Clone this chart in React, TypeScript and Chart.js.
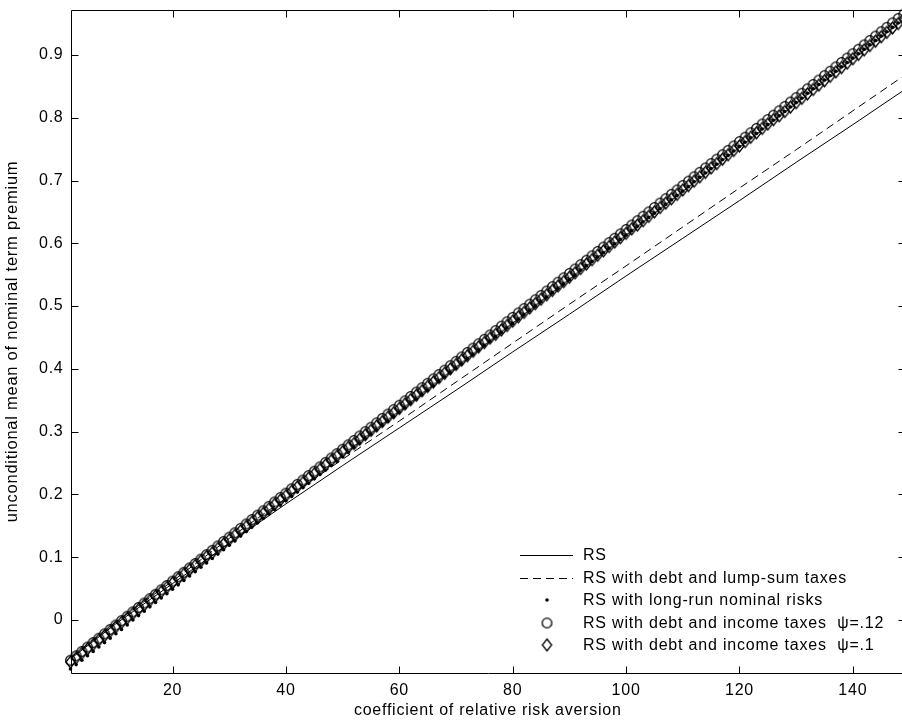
import React, { useEffect, useRef } from 'react';
import { Chart, registerables } from 'chart.js';

Chart.register(...registerables);

// coefficient of relative risk aversion: marker series are sampled at every integer 2..150
const gammaGrid: number[] = Array.from({ length: 149 }, (_, i) => i + 2);
// the two plain lines are read at these abscissae
const lineGamma: number[] = [2, 10, 20, 30, 40, 50, 60, 70, 80, 90, 100, 110, 120, 130, 140, 150];

const rsPremium: number[] = [-0.062, -0.006, 0.058, 0.122, 0.185, 0.246, 0.306, 0.366, 0.427, 0.487, 0.548, 0.608, 0.668, 0.729, 0.789, 0.850];
const lumpSumPremium: number[] = [-0.060, -0.003, 0.062, 0.130, 0.194, 0.256, 0.317, 0.379, 0.441, 0.503, 0.564, 0.626, 0.688, 0.749, 0.811, 0.873];

const longRunPremium: number[] = [
  -0.078, -0.071, -0.064, -0.057, -0.050, -0.043, -0.036, -0.029, -0.022, -0.015,
  -0.008, 0.000, 0.007, 0.014, 0.021, 0.028, 0.035, 0.042, 0.049, 0.056,
  0.063, 0.070, 0.077, 0.084, 0.091, 0.098, 0.105, 0.112, 0.119, 0.126,
  0.134, 0.141, 0.148, 0.155, 0.162, 0.169, 0.176, 0.183, 0.190, 0.197,
  0.204, 0.211, 0.218, 0.225, 0.232, 0.239, 0.246, 0.253, 0.260, 0.267,
  0.275, 0.282, 0.289, 0.296, 0.303, 0.310, 0.317, 0.324, 0.331, 0.338,
  0.345, 0.352, 0.359, 0.366, 0.373, 0.380, 0.387, 0.394, 0.401, 0.408,
  0.416, 0.423, 0.430, 0.437, 0.444, 0.451, 0.458, 0.465, 0.472, 0.479,
  0.486, 0.493, 0.500, 0.507, 0.514, 0.521, 0.528, 0.535, 0.542, 0.549,
  0.557, 0.564, 0.571, 0.578, 0.585, 0.592, 0.599, 0.606, 0.613, 0.620,
  0.627, 0.634, 0.641, 0.648, 0.655, 0.662, 0.669, 0.676, 0.683, 0.690,
  0.698, 0.705, 0.712, 0.719, 0.726, 0.733, 0.740, 0.747, 0.754, 0.761,
  0.768, 0.775, 0.782, 0.789, 0.796, 0.803, 0.810, 0.817, 0.824, 0.831,
  0.839, 0.846, 0.853, 0.860, 0.867, 0.874, 0.881, 0.888, 0.895, 0.902,
  0.909, 0.916, 0.923, 0.930, 0.937, 0.944, 0.951, 0.958, 0.965,
];

const incomeTaxPsi12: number[] = [
  -0.064, -0.057, -0.050, -0.043, -0.036, -0.029, -0.022, -0.015, -0.008, -0.001,
  0.006, 0.013, 0.020, 0.027, 0.034, 0.041, 0.048, 0.055, 0.062, 0.069,
  0.076, 0.083, 0.090, 0.097, 0.104, 0.111, 0.118, 0.125, 0.132, 0.139,
  0.146, 0.153, 0.160, 0.167, 0.174, 0.181, 0.188, 0.195, 0.202, 0.209,
  0.216, 0.223, 0.230, 0.237, 0.244, 0.251, 0.258, 0.265, 0.272, 0.279,
  0.286, 0.293, 0.300, 0.307, 0.314, 0.321, 0.328, 0.335, 0.342, 0.349,
  0.356, 0.363, 0.370, 0.377, 0.384, 0.391, 0.398, 0.405, 0.412, 0.419,
  0.426, 0.433, 0.440, 0.447, 0.454, 0.461, 0.468, 0.475, 0.482, 0.489,
  0.496, 0.503, 0.510, 0.517, 0.524, 0.531, 0.538, 0.545, 0.552, 0.559,
  0.566, 0.573, 0.580, 0.587, 0.594, 0.601, 0.608, 0.615, 0.622, 0.629,
  0.636, 0.643, 0.650, 0.657, 0.664, 0.671, 0.678, 0.685, 0.692, 0.699,
  0.706, 0.713, 0.720, 0.727, 0.734, 0.741, 0.748, 0.755, 0.762, 0.769,
  0.776, 0.783, 0.790, 0.797, 0.804, 0.811, 0.818, 0.825, 0.832, 0.839,
  0.846, 0.853, 0.860, 0.867, 0.874, 0.881, 0.888, 0.895, 0.902, 0.909,
  0.916, 0.923, 0.930, 0.937, 0.944, 0.951, 0.958, 0.965, 0.972,
];

const incomeTaxPsi10: number[] = [
  -0.067, -0.060, -0.053, -0.046, -0.039, -0.032, -0.025, -0.018, -0.011, -0.004,
  0.003, 0.010, 0.017, 0.024, 0.031, 0.038, 0.045, 0.052, 0.059, 0.066,
  0.073, 0.080, 0.087, 0.094, 0.101, 0.107, 0.114, 0.121, 0.128, 0.135,
  0.142, 0.149, 0.156, 0.163, 0.170, 0.177, 0.184, 0.191, 0.198, 0.205,
  0.212, 0.219, 0.226, 0.233, 0.240, 0.247, 0.254, 0.261, 0.268, 0.275,
  0.281, 0.288, 0.295, 0.302, 0.309, 0.316, 0.323, 0.330, 0.337, 0.344,
  0.351, 0.358, 0.365, 0.372, 0.379, 0.386, 0.393, 0.400, 0.407, 0.414,
  0.421, 0.428, 0.435, 0.442, 0.449, 0.455, 0.462, 0.469, 0.476, 0.483,
  0.490, 0.497, 0.504, 0.511, 0.518, 0.525, 0.532, 0.539, 0.546, 0.553,
  0.560, 0.567, 0.574, 0.581, 0.588, 0.595, 0.602, 0.609, 0.616, 0.623,
  0.629, 0.636, 0.643, 0.650, 0.657, 0.664, 0.671, 0.678, 0.685, 0.692,
  0.699, 0.706, 0.713, 0.720, 0.727, 0.734, 0.741, 0.748, 0.755, 0.762,
  0.769, 0.776, 0.783, 0.790, 0.797, 0.803, 0.810, 0.817, 0.824, 0.831,
  0.838, 0.845, 0.852, 0.859, 0.866, 0.873, 0.880, 0.887, 0.894, 0.901,
  0.908, 0.915, 0.922, 0.929, 0.936, 0.943, 0.950, 0.957, 0.962,
];

const xTicks: number[] = [20, 40, 60, 80, 100, 120, 140];
const yTicks: number[] = [0, 0.1, 0.2, 0.3, 0.4, 0.5, 0.6, 0.7, 0.8, 0.9];
const yTickLabels: string[] = ['0', '0.1', '0.2', '0.3', '0.4', '0.5', '0.6', '0.7', '0.8', '0.9'];

const xTitle = 'coefficient of relative risk aversion';
const yTitle = 'unconditional mean of nominal term premium';
const legendLabels: string[] = [
  'RS',
  'RS with debt and lump-sum taxes',
  'RS with long-run nominal risks',
  'RS with debt and income taxes  \u03C8=.12',
  'RS with debt and income taxes  \u03C8=.1',
];

const X_MIN = 2;
const X_MAX = 149.2;
const Y_MIN = -0.0844;
const Y_MAX = 0.9716;

const FONT_FAMILY = '"Liberation Sans", Arial, Helvetica, sans-serif';
const LETTER_SPACING = '0.75px';
const LEGEND_LETTER_SPACING = '0.8px';

function makeCircleMarker(r: number, lw: number): HTMLCanvasElement {
  const size = Math.ceil(2 * r + lw + 2);
  const c = document.createElement('canvas');
  c.width = size;
  c.height = size;
  const g = c.getContext('2d')!;
  g.strokeStyle = '#000';
  g.lineWidth = lw;
  g.beginPath();
  g.arc(size / 2, size / 2, r, 0, Math.PI * 2);
  g.stroke();
  return c;
}

function makeDiamondMarker(hw: number, hh: number, lw: number): HTMLCanvasElement {
  const w = Math.ceil(2 * hw + lw + 2);
  const h = Math.ceil(2 * hh + lw + 2);
  const c = document.createElement('canvas');
  c.width = w;
  c.height = h;
  const g = c.getContext('2d')!;
  g.strokeStyle = '#000';
  g.lineWidth = lw;
  g.beginPath();
  g.moveTo(w / 2, h / 2 - hh);
  g.lineTo(w / 2 + hw, h / 2);
  g.lineTo(w / 2, h / 2 + hh);
  g.lineTo(w / 2 - hw, h / 2);
  g.closePath();
  g.stroke();
  return c;
}

const toPoints = (xs: number[], ys: number[]) => ys.map((y, i) => ({ x: xs[i], y }));

export default function App() {
  const canvasRef = useRef<HTMLCanvasElement | null>(null);

  useEffect(() => {
    const canvas = canvasRef.current;
    if (!canvas) return;

    const circleMarker = makeCircleMarker(4.8, 1.3);
    const diamondMarker = makeDiamondMarker(4.6, 6, 1.3);

    const font = { family: FONT_FAMILY, size: 16 };

    const letterSpacingPlugin = {
      id: 'letterSpacing',
      beforeDraw(chart: any) {
        (chart.ctx as any).letterSpacing = LETTER_SPACING;
      },
    };

    const framePlugin = {
      id: 'frameAndLegend',
      afterDraw(chart: any) {
        const { ctx, chartArea, scales } = chart;
        const { left, right, top, bottom } = chartArea;
        const xs = scales.x;
        const ys = scales.y;
        ctx.save();
        ctx.strokeStyle = '#000';
        ctx.lineWidth = 1;
        ctx.setLineDash([]);
        const L = Math.round(left) + 0.5;
        const R = Math.round(right) + 0.5;
        const T = Math.round(top) + 0.5;
        const B = Math.round(bottom) + 0.5;
        ctx.beginPath();
        ctx.moveTo(L, T);
        ctx.lineTo(R, T);
        ctx.lineTo(R, B);
        ctx.lineTo(L, B);
        ctx.closePath();
        const TL = 7;
        xTicks.forEach((v) => {
          const px = Math.round(xs.getPixelForValue(v)) + 0.5;
          ctx.moveTo(px, B);
          ctx.lineTo(px, B - TL);
          ctx.moveTo(px, T);
          ctx.lineTo(px, T + TL);
        });
        yTicks.forEach((v) => {
          const py = Math.round(ys.getPixelForValue(v)) + 0.5;
          ctx.moveTo(L, py);
          ctx.lineTo(L + TL, py);
          ctx.moveTo(R, py);
          ctx.lineTo(R - TL, py);
        });
        ctx.stroke();

        // legend
        const rowsY = [555, 578, 600, 623, 645];
        const x1 = 520;
        const x2 = 573;
        const mx = 547;
        const tx = 583;
        ctx.font = `16px ${FONT_FAMILY}`;
        (ctx as any).letterSpacing = LEGEND_LETTER_SPACING;
        ctx.fillStyle = '#000';
        ctx.textBaseline = 'middle';
        ctx.textAlign = 'left';
        legendLabels.forEach((label, i) => {
          const y = rowsY[i];
          const py = Math.round(y) + 0.5;
          if (i === 0 || i === 1) {
            ctx.beginPath();
            ctx.lineWidth = 1;
            ctx.setLineDash(i === 1 ? [8, 5] : []);
            ctx.moveTo(x1, py);
            ctx.lineTo(x2, py);
            ctx.stroke();
            ctx.setLineDash([]);
          } else if (i === 2) {
            ctx.beginPath();
            ctx.arc(mx, y, 1.8, 0, Math.PI * 2);
            ctx.fill();
          } else if (i === 3) {
            ctx.drawImage(circleMarker, mx - circleMarker.width / 2, y - circleMarker.height / 2);
          } else {
            ctx.drawImage(diamondMarker, mx - diamondMarker.width / 2, y - diamondMarker.height / 2);
          }
          ctx.fillText(label, tx, y + 1);
        });
        ctx.restore();
      },
    };

    const chart = new Chart(canvas, {
      type: 'line',
      data: {
        datasets: [
          {
            label: legendLabels[0],
            data: toPoints(lineGamma, rsPremium),
            borderColor: '#000',
            borderWidth: 1,
            pointRadius: 0,
            fill: false,
            tension: 0,
          },
          {
            label: legendLabels[1],
            data: toPoints(lineGamma, lumpSumPremium),
            borderColor: '#000',
            borderWidth: 1,
            borderDash: [8, 5],
            pointRadius: 0,
            fill: false,
            tension: 0,
          },
          {
            label: legendLabels[2],
            data: toPoints(gammaGrid, longRunPremium),
            showLine: false,
            pointStyle: 'circle',
            pointRadius: 1.8,
            pointBorderWidth: 0,
            pointBackgroundColor: '#000',
            pointBorderColor: '#000',
            clip: false,
          },
          {
            label: legendLabels[3],
            data: toPoints(gammaGrid, incomeTaxPsi12),
            showLine: false,
            pointStyle: circleMarker,
            pointRadius: 5,
            clip: false,
          },
          {
            label: legendLabels[4],
            data: toPoints(gammaGrid, incomeTaxPsi10),
            showLine: false,
            pointStyle: diamondMarker,
            pointRadius: 5,
            clip: false,
          },
        ] as any,
      },
      options: {
        animation: false,
        responsive: false,
        devicePixelRatio: 1,
        events: [],
        layout: { padding: { top: 10, right: 7, left: 0, bottom: 0 } },
        plugins: {
          legend: { display: false },
          tooltip: { enabled: false },
          title: { display: false },
        },
        scales: {
          x: {
            type: 'linear',
            min: X_MIN,
            max: X_MAX,
            grid: { display: false, drawTicks: false },
            border: { display: false },
            afterBuildTicks: (s: any) => {
              s.ticks = xTicks.map((v) => ({ value: v }));
            },
            afterFit: (s: any) => {
              s.height = 49;
              s.paddingLeft = 0;
              s.paddingRight = 0;
            },
            ticks: {
              font,
              color: '#000',
              padding: 8,
              maxRotation: 0,
              autoSkip: false,
              callback: (v: any) => String(v),
            },
            title: {
              display: true,
              text: xTitle,
              font,
              color: '#000',
              padding: { top: 0, bottom: 2 },
            },
          },
          y: {
            type: 'linear',
            min: Y_MIN,
            max: Y_MAX,
            grid: { display: false, drawTicks: false },
            border: { display: false },
            afterBuildTicks: (s: any) => {
              s.ticks = yTicks.map((v) => ({ value: v }));
            },
            afterFit: (s: any) => {
              s.width = 70.5;
              s.paddingTop = 0;
              s.paddingBottom = 0;
            },
            ticks: {
              font,
              color: '#000',
              padding: 7,
              autoSkip: false,
              callback: (v: any) => {
                const idx = yTicks.findIndex((t) => Math.abs(t - v) < 1e-9);
                return idx >= 0 ? yTickLabels[idx] : '';
              },
            },
            title: {
              display: true,
              text: yTitle,
              font: { family: FONT_FAMILY, size: 16.5 },
              color: '#000',
              padding: { top: 3, bottom: 0 },
            },
          },
        },
      } as any,
      plugins: [letterSpacingPlugin, framePlugin],
    });

    return () => {
      chart.destroy();
    };
  }, []);

  return (
    <div
      style={{
        position: 'absolute',
        left: 0,
        top: 0,
        width: 902,
        height: 722,
        overflow: 'hidden',
        background: '#fff',
      }}
    >
      <canvas
        ref={canvasRef}
        width={912}
        height={722}
        style={{ display: 'block', width: 912, height: 722 }}
      />
    </div>
  );
}
